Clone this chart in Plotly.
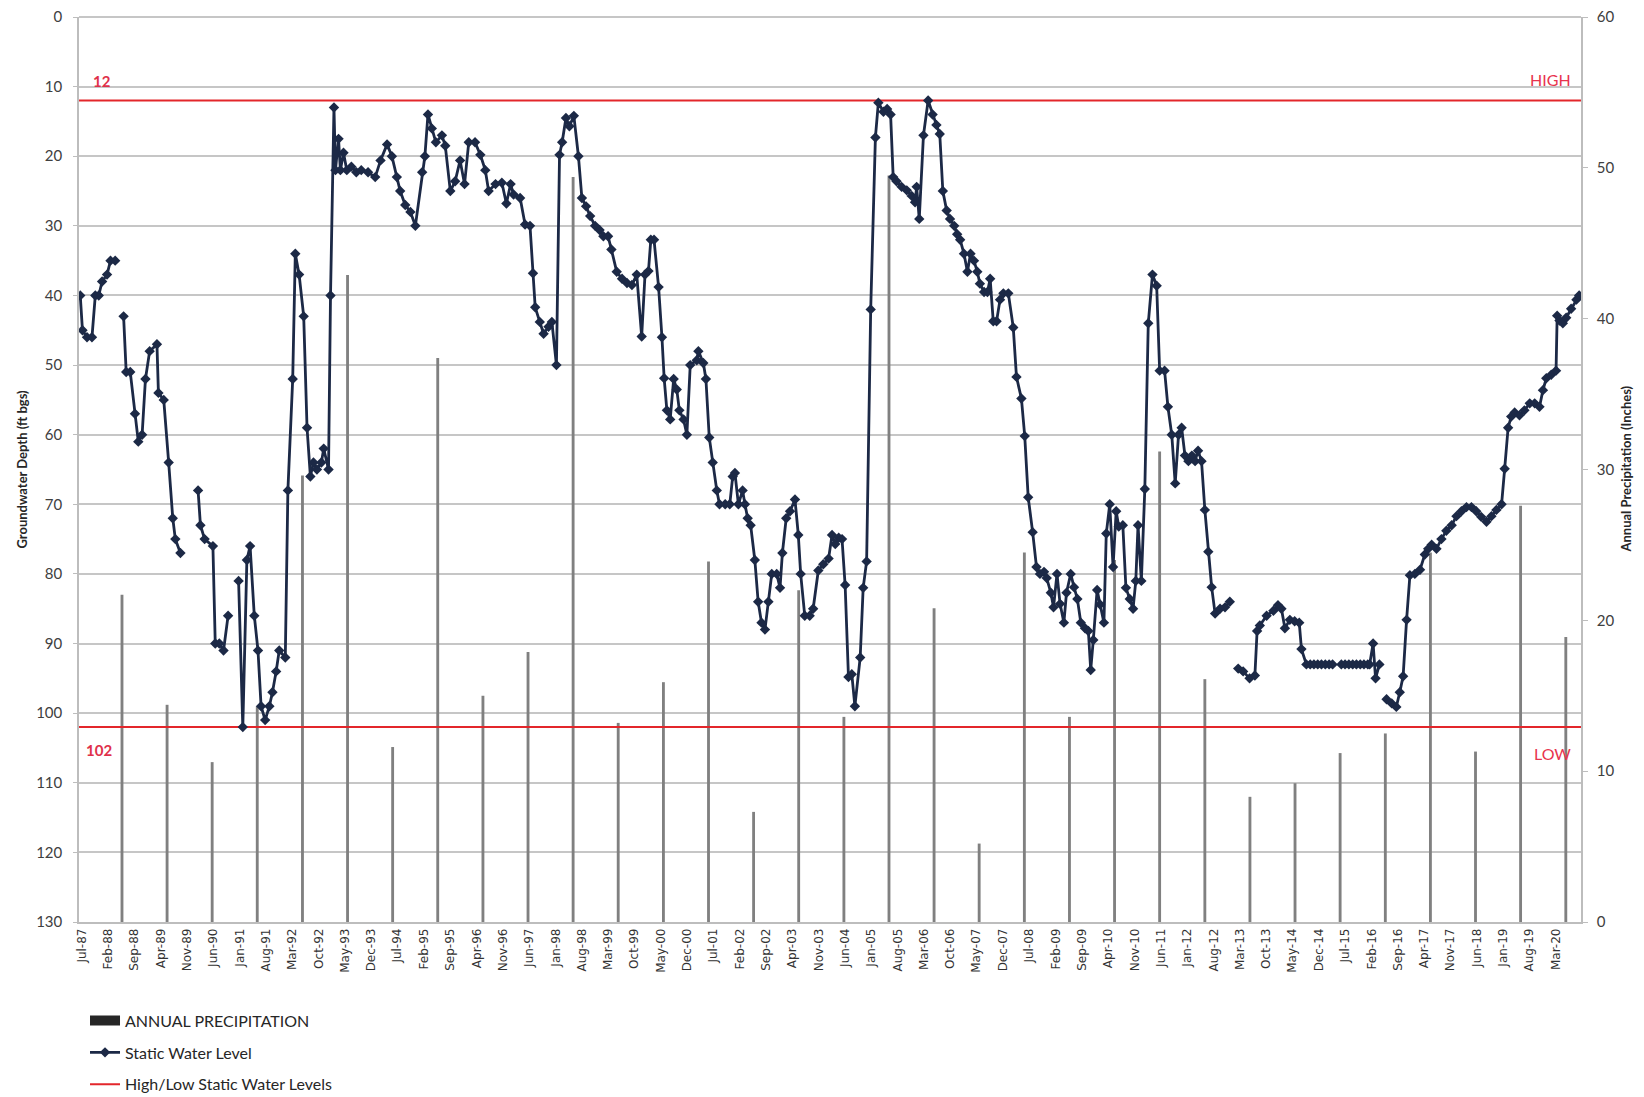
import plotly.graph_objects as go

# Static water level, depth in ft below ground surface (None = gap in record)
level_dates = [
    "1987-06-19", "1987-07-07", "1987-08-13", "1987-09-22", "1987-10-19", "1987-11-16", "1987-12-13",
    "1988-01-22", "1988-02-19", "1988-03-28", "1988-05-01", "1988-06-04", "1988-06-25", "1988-07-28", "1988-09-04", "1988-10-01", "1988-11-01", "1988-11-28",
    "1989-01-01", "1989-03-01", "1989-03-13", "1989-04-25", "1989-06-04", "1989-07-07", "1989-07-28", "1989-09-07", "1989-11-15",
    "1990-01-28", "1990-02-16", "1990-03-22", "1990-05-28", "1990-06-16", "1990-07-19", "1990-08-22", "1990-09-28", "1990-11-10", "1990-12-22",
    "1991-01-25", "1991-02-27", "1991-03-25", "1991-04-28", "1991-05-28", "1991-06-22", "1991-07-25", "1991-08-28", "1991-09-22", "1991-10-22", "1991-11-16",
    "1992-01-04", "1992-01-25", "1992-03-04", "1992-03-25", "1992-04-25", "1992-06-01", "1992-06-28", "1992-07-25", "1992-08-19", "1992-09-16", "1992-10-22", "1992-11-10", "1992-12-19",
    "1993-01-04", "1993-02-01", "1993-02-13", "1993-03-10", "1993-03-25", "1993-04-19", "1993-05-16", "1993-06-22", "1993-08-01", "1993-09-10", "1993-11-04",
    "1994-01-01", "1994-02-13", "1994-04-07", "1994-05-16", "1994-06-25", "1994-07-22", "1994-09-01", "1994-10-13", "1994-11-22",
    "1995-01-16", "1995-02-07", "1995-03-04", "1995-04-04", "1995-05-07", "1995-06-25", "1995-07-22", "1995-09-01", "1995-10-10", "1995-11-19", "1995-12-25",
    "1996-01-28", "1996-03-19", "1996-05-01", "1996-06-10", "1996-07-07", "1996-09-01", "1996-10-22", "1996-11-28",
    "1997-01-01", "1997-01-25", "1997-03-19", "1997-04-28", "1997-06-07", "1997-07-01", "1997-07-19", "1997-08-25", "1997-09-25", "1997-11-04", "1997-12-01",
    "1998-01-07", "1998-02-01", "1998-02-22", "1998-03-25", "1998-04-22", "1998-05-28", "1998-07-04", "1998-08-01", "1998-09-04", "1998-10-07", "1998-11-16", "1998-12-22",
    "1999-01-22", "1999-03-01", "1999-03-28", "1999-05-10", "1999-06-22", "1999-08-01", "1999-09-10", "1999-10-19", "1999-11-28", "1999-12-25",
    "2000-01-22", "2000-02-10", "2000-03-07", "2000-04-13", "2000-05-10", "2000-05-28", "2000-06-19", "2000-07-16", "2000-08-13", "2000-09-07", "2000-09-28", "2000-11-01", "2000-11-28", "2000-12-25",
    "2001-02-16", "2001-03-01", "2001-04-10", "2001-05-01", "2001-05-28", "2001-06-25", "2001-07-28", "2001-08-19", "2001-10-04", "2001-11-10", "2001-12-04", "2001-12-22",
    "2002-01-19", "2002-02-22", "2002-03-13", "2002-04-04", "2002-04-28", "2002-06-01", "2002-06-28", "2002-07-25", "2002-08-22", "2002-09-19", "2002-10-16", "2002-11-25", "2002-12-22",
    "2003-01-10", "2003-02-10", "2003-03-13", "2003-04-22", "2003-05-19", "2003-06-07", "2003-07-10", "2003-08-19", "2003-09-16", "2003-10-28", "2003-12-07",
    "2004-01-19", "2004-02-16", "2004-03-13", "2004-04-10", "2004-05-07", "2004-06-01", "2004-06-28", "2004-07-25", "2004-08-19", "2004-10-01", "2004-10-25", "2004-11-22", "2004-12-25",
    "2005-02-01", "2005-02-25", "2005-04-07", "2005-05-07", "2005-06-04", "2005-06-25", "2005-07-22", "2005-09-01", "2005-10-13", "2005-11-22", "2005-12-19",
    "2006-01-01", "2006-01-22", "2006-02-25", "2006-04-04", "2006-05-10", "2006-06-10", "2006-07-07", "2006-08-01", "2006-09-01", "2006-09-28", "2006-11-01", "2006-11-25", "2006-12-19",
    "2007-01-19", "2007-02-16", "2007-03-13", "2007-04-10", "2007-05-07", "2007-05-28", "2007-07-01", "2007-07-28", "2007-08-19", "2007-09-13", "2007-10-10", "2007-11-07", "2007-12-04",
    "2008-01-13", "2008-02-22", "2008-03-19", "2008-04-28", "2008-05-25", "2008-06-22", "2008-07-28", "2008-08-28", "2008-09-25", "2008-10-28", "2008-11-19", "2008-12-22",
    "2009-01-13", "2009-02-10", "2009-03-07", "2009-04-07", "2009-04-28", "2009-06-01", "2009-06-28", "2009-07-25", "2009-08-22", "2009-09-25", "2009-10-22", "2009-11-10", "2009-12-01",
    "2010-01-01", "2010-01-25", "2010-02-25", "2010-03-16", "2010-04-13", "2010-05-10", "2010-06-04", "2010-06-25", "2010-07-28", "2010-08-22", "2010-09-22", "2010-10-19", "2010-11-10", "2010-11-28", "2010-12-25",
    "2011-01-22", "2011-02-19", "2011-03-25", "2011-04-28", "2011-05-22", "2011-07-01", "2011-07-28", "2011-08-28", "2011-09-25", "2011-10-22", "2011-11-16", "2011-12-13",
    "2012-01-10", "2012-02-07", "2012-03-04", "2012-03-28", "2012-04-25", "2012-05-22", "2012-06-19", "2012-07-16", "2012-08-13", "2012-09-22", "2012-11-01", "2012-12-10",
    "2013-01-15", "2013-02-16", "2013-03-28", "2013-05-19", "2013-07-01", "2013-07-19", "2013-08-10", "2013-10-04", "2013-11-28",
    "2014-01-04", "2014-02-01", "2014-03-01", "2014-04-10", "2014-05-19", "2014-06-25", "2014-07-13", "2014-08-22", "2014-09-22", "2014-10-22", "2014-11-22", "2014-12-22",
    "2015-01-22", "2015-02-22", "2015-03-22", "2015-05-01", "2015-06-01", "2015-07-01", "2015-08-01", "2015-09-01", "2015-10-01", "2015-11-01", "2015-12-01",
    "2016-01-01", "2016-01-16", "2016-02-13", "2016-03-04", "2016-04-04", "2016-05-01", "2016-06-01", "2016-07-13", "2016-08-19", "2016-09-16", "2016-10-13", "2016-11-10", "2016-12-07",
    "2017-01-16", "2017-02-27", "2017-04-07", "2017-05-04", "2017-06-01", "2017-07-10", "2017-08-19", "2017-09-28", "2017-11-10", "2017-12-19",
    "2018-01-28", "2018-03-10", "2018-04-19", "2018-05-28", "2018-07-07", "2018-08-19", "2018-09-28", "2018-11-07", "2018-12-19",
    "2019-01-13", "2019-02-10", "2019-03-07", "2019-04-04", "2019-05-13", "2019-06-22", "2019-08-04", "2019-09-13", "2019-10-22", "2019-11-19", "2019-12-16",
    "2020-01-25", "2020-03-04", "2020-03-13", "2020-04-01", "2020-04-28", "2020-05-25", "2020-07-04", "2020-08-16", "2020-09-07",
]
level_ft = [
    40, 45, 46, 46, 40, 40, 38,
    37, 35, 35, None, 43, 51, 51, 57, 61, 60, 52,
    48, 47, 54, 55, 64, 72, 75, 77, None,
    68, 73, 75, 76, 90, 90, 91, 86, None, 81,
    102, 78, 76, 86, 91, 99, 101, 99, 97, 94, 91,
    92, 68, 52, 34, 37, 43, 59, 66, 64, 65, 64, 62, 65,
    40, 13, 22, 17.5, 22, 19.5, 22, 21.5, 22.3, 22, 22.3,
    23, 20.6, 18.3, 20, 23, 25, 27, 28, 30,
    22.3, 20, 14, 16, 18, 17, 18.5, 25, 23.6, 20.6, 24,
    18, 18, 19.8, 22, 25, 24, 23.8, 26.8,
    24, 25.5, 26, 29.8, 30, 36.8, 41.7, 43.8, 45.5, 44.5, 43.8,
    50, 19.8, 18, 14.5, 15.7, 14.2, 20, 26, 27.2, 28.6, 30, 30.6,
    31.5, 31.5, 33.4, 36.6, 37.6, 38.2, 38.5, 37, 45.9, 37,
    36.5, 32, 32, 38.8, 46, 51.9, 56.5, 57.8, 52, 53.5, 56.5, 57.8, 60, 50,
    49.3, 48, 49.7, 52, 60.4, 64, 68, 70, 70, 70, 66, 65.5,
    70, 68, 70, 72, 73, 78, 84, 87, 88, 84, 80, 80, 82,
    77, 72, 71, 69.3, 74.4, 80, 86, 86, 85, 79.5, 78.6,
    77.8, 74.4, 75.7, 74.8, 75, 81.6, 94.8, 94.4, 99, 92, 82, 78.2, 42,
    17.3, 12.3, 13.6, 13.2, 14, 23, 23.6, 24.4, 24.9, 25.7, 26.6,
    24.4, 29, 17, 12, 14, 15.5, 16.8, 25, 27.8, 29, 30, 31.2, 32,
    34, 36.6, 34, 35, 36.6, 38.3, 39.5, 39.5, 37.6, 43.7, 43.7, 40.6, 39.7,
    39.7, 44.6, 51.7, 54.8, 60.2, 69, 74, 79, 80, 79.7, 80.6, 82.7,
    84.8, 80, 84.3, 87, 82.7, 80, 81.9, 83.6, 87, 87.8, 88.2, 93.8, 89.5,
    82.3, 84.4, 87, 74.2, 70, 79, 71, 73.2, 73, 82, 83.6, 85, 81, 73, 81,
    67.8, 44, 37, 38.6, 50.8, 50.8, 56, 60, 67, 60, 59, 63,
    63.8, 63, 63.8, 62.3, 63.8, 70.8, 76.8, 81.9, 85.7, 85, 84.8, 84,
    None, 93.6, 94, 95, 94.6, 88.2, 87.4, 86, 85.3,
    84.5, 85, 87.8, 86.6, 86.8, 87, 90.8, 93, 93, 93, 93, 93,
    93, 93, 93, None, 93, 93, 93, 93, 93, 93, 93,
    93, 93, 90, 95, 93, None, 98, 98.6, 99.1, 97, 94.7, 86.6, 80.2,
    80, 79.4, 77.2, 76.4, 75.8, 76.4, 75, 73.8, 73, 71.7,
    71, 70.4, 70.4, 71, 71.8, 72.5, 71.7, 70.8, 70,
    64.9, 59, 57.4, 56.8, 57.2, 56.5, 55.5, 55.5, 56, 53.6, 51.9,
    51.4, 50.8, 42.9, 43.6, 44, 43.2, 41.9, 40.6, 40,
]
assert len(level_dates) == len(level_ft)

# Annual precipitation (inches)
precip_years = [1988, 1989, 1990, 1991, 1992, 1993, 1994, 1995, 1996, 1997, 1998,
                1999, 2000, 2001, 2002, 2003, 2004, 2005, 2006, 2007, 2008, 2009,
                2010, 2011, 2012, 2013, 2014, 2015, 2016, 2017, 2018, 2019, 2020]
precip_in = [21.7, 14.4, 10.6, 14.3, 29.6, 42.9, 11.6, 37.4, 15.0, 17.9, 49.4,
             13.2, 15.9, 23.9, 7.3, 22.0, 13.6, 49.5, 20.8, 5.2, 24.5, 13.6,
             24.0, 31.2, 16.1, 8.3, 9.2, 11.2, 12.5, 24.5, 11.3, 27.6, 18.9]

# High / low static water levels (ft bgs)
HIGH_LEVEL = 12
LOW_LEVEL = 102

X_START, X_END = "1987-06-09", "2020-09-22"
NAVY = "#1c2946"
RED = "#e3262b"
GRID = "#c6c6c6"
AXIS = "#bdbdbd"

fig = go.Figure()

# legend swatch for the precipitation bars
fig.add_trace(go.Scatter(
    x=[None], y=[None], mode="lines", name="ANNUAL PRECIPITATION",
    line=dict(color="#262626", width=10), legendgroup="a", legendrank=1, yaxis="y"))

fig.add_trace(go.Bar(
    x=[f"{y}-05-22" for y in precip_years], y=precip_in,
    width=2.0e9, marker=dict(color="#808080", line=dict(width=0)),
    showlegend=False, yaxis="y", name="ANNUAL PRECIPITATION"))

fig.add_trace(go.Scatter(
    x=[X_START, X_END, None, X_START, X_END],
    y=[HIGH_LEVEL, HIGH_LEVEL, None, LOW_LEVEL, LOW_LEVEL],
    mode="lines", line=dict(color=RED, width=2),
    name="High/Low Static Water Levels", legendgroup="c", legendrank=3,
    yaxis="y2"))

fig.add_trace(go.Scatter(
    x=level_dates, y=level_ft, mode="lines+markers", connectgaps=False,
    line=dict(color=NAVY, width=2.8),
    marker=dict(symbol="diamond", size=8, color=NAVY),
    name="Static Water Level", legendgroup="b", legendrank=2, yaxis="y2"))

annotations = [
    dict(text="<b>12</b>", x=0.0153, y=0.929, font=dict(color="#e0304a", size=15)),
    dict(text="<b>102</b>", x=0.0133, y=0.1903, font=dict(color="#e0304a", size=15)),
    dict(text="HIGH", x=0.9794, y=0.931, font=dict(color="#e8344e", size=16)),
    dict(text="LOW", x=0.9807, y=0.186, font=dict(color="#e8344e", size=16)),
    dict(text="<b>Groundwater Depth (ft bgs)</b>", x=-0.0386, y=0.5, textangle=-90,
         font=dict(color="#262626", size=13)),
    dict(text="<b>Annual Precipitation (Inches)</b>", x=1.0293, y=0.5, textangle=-90,
         font=dict(color="#262626", size=13)),
]
for a in annotations:
    a.update(xref="paper", yref="paper", showarrow=False, xanchor="center", yanchor="middle")

fig.update_layout(
    width=1644, height=1097,
    margin=dict(l=71, r=71, t=9, b=183, autoexpand=False),
    plot_bgcolor="white", paper_bgcolor="white",
    font=dict(family="Lato, Open Sans, sans-serif", color="#404040", size=15),
    barmode="overlay",
    xaxis=dict(type="date", range=[X_START, X_END], tick0="1987-07-01", dtick="M7",
               tickformat="%b-%y", tickangle=-90, ticks="", automargin=False,
               tickfont=dict(family="DejaVu Sans", size=12, color="#333333"),
               showgrid=False, zeroline=False, showline=True, linecolor=AXIS, linewidth=1.5),
    yaxis=dict(range=[0, 60], side="right", dtick=10, showgrid=False, zeroline=False,
               showline=True, linecolor=AXIS, linewidth=1.5, automargin=False,
               ticks="outside", ticklen=5, tickcolor=AXIS, ticklabelstandoff=6,
               ticklabeloverflow="allow"),
    yaxis2=dict(range=[130, 0], overlaying="y", side="left", dtick=10,
                showgrid=True, gridcolor=GRID, gridwidth=1.5,
                zeroline=True, zerolinecolor=GRID, zerolinewidth=1.5,
                showline=True, linecolor=AXIS, linewidth=1.5, automargin=False,
                ticks="outside", ticklen=4, tickcolor=AXIS, ticklabelstandoff=8,
                ticklabeloverflow="allow"),
    showlegend=True,
    legend=dict(x=0.004, y=-0.0902, xanchor="left", yanchor="top", orientation="v",
                tracegroupgap=8, itemwidth=30, bgcolor="rgba(0,0,0,0)",
                font=dict(family="Lato, sans-serif", size=16, color="#262626")),
    annotations=annotations,
)

fig.write_html("out.html")
